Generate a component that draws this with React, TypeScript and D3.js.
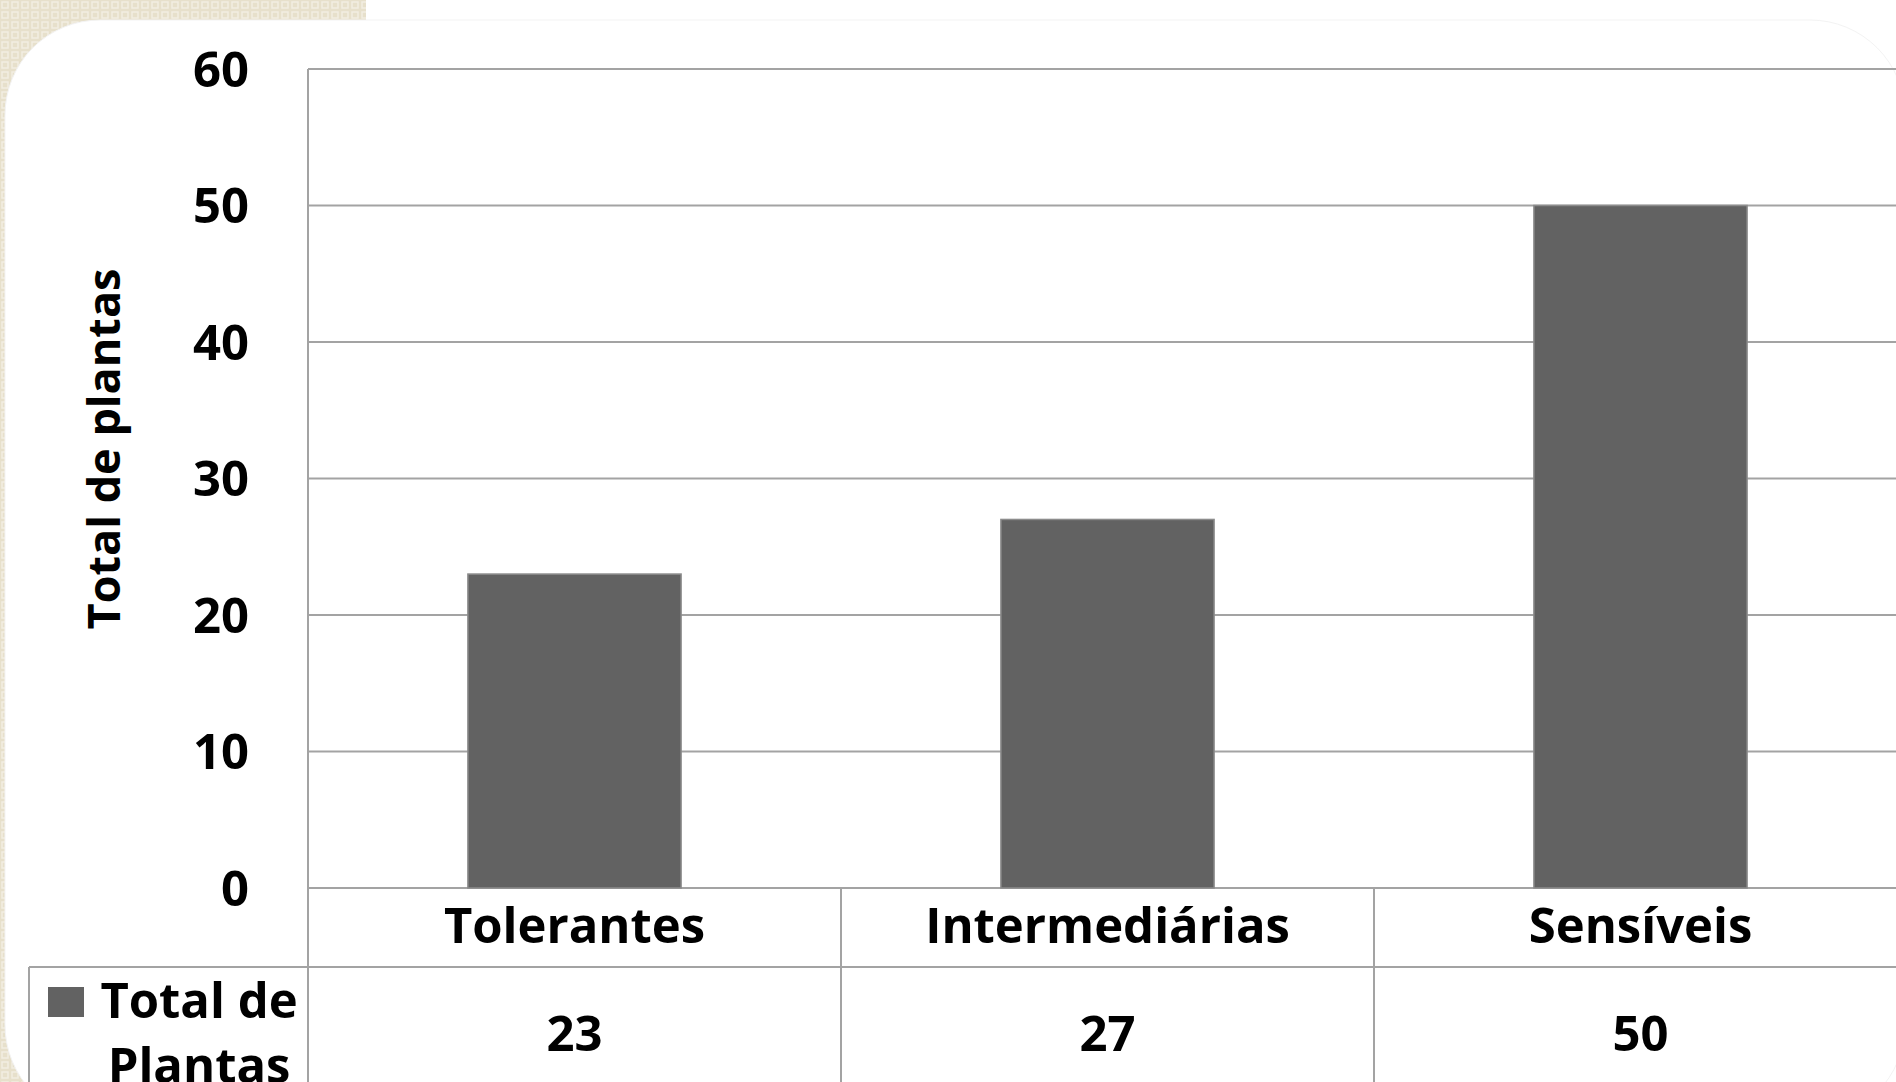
import * as d3 from 'd3';

// chart data
const categories = ['Tolerantes', 'Intermediárias', 'Sensíveis'];
const values = [23, 27, 50];
const yTicks = [0, 10, 20, 30, 40, 50, 60];
const seriesName = ['Total de', 'Plantas'];
const yTitle = 'Total de plantas';

const W = 1896;
const H = 1082;
const FONT = '"Open Sans", Lato, sans-serif';
const FS = 49;
const GRID = '#a3a3a3';
const BAR = '#626262';

export default function App() {
  // plot frame
  const left = 308;
  const top = 69;
  const bottom = 888;
  const band = 533;
  const rowLine = 967;

  const x = d3.scaleBand<string>().domain(categories).range([left, left + band * categories.length]).padding(0);
  const y = d3.scaleLinear().domain([0, 60]).range([bottom, top]);
  const barW = x.bandwidth() * 0.4;

  return (
    <svg
      width={W}
      height={H}
      style={{ position: 'absolute', left: 0, top: 0, display: 'block' }}
      fontFamily={FONT}
      fontWeight="bold"
    >
      <defs>
        <pattern id="tex" width={10} height={10} patternUnits="userSpaceOnUse">
          <rect width={10} height={10} fill="#e7e0cb" />
          <rect x={2} y={2} width={6} height={6} fill="none" stroke="#f2eee2" strokeWidth={1.5} />
        </pattern>
      </defs>

      {/* slide background and card */}
      <rect width={W} height={H} fill="#fff" />
      <rect x={0} y={0} width={366} height={H} fill="url(#tex)" />
      <rect x={5} y={20} width={1900} height={1100} rx={95} fill="#fff" stroke="#f3f3f3" strokeWidth={1} />

      {/* gridlines */}
      {yTicks.map((t) => (
        <line key={t} x1={left} x2={W + 20} y1={y(t)} y2={y(t)} stroke={GRID} strokeWidth={2} />
      ))}

      {/* bars */}
      {categories.map((c, i) => {
        const cx = (x(c) as number) + x.bandwidth() / 2;
        return (
          <rect
            key={c}
            x={cx - barW / 2}
            y={y(values[i])}
            width={barW}
            height={y(0) - y(values[i])}
            fill={BAR}
            stroke="#8c8c8c"
            strokeWidth={1.5}
          />
        );
      })}

      {/* y axis + table lines */}
      <line x1={left} x2={left} y1={top} y2={H} stroke={GRID} strokeWidth={2} />
      <line x1={29} x2={W + 20} y1={rowLine} y2={rowLine} stroke={GRID} strokeWidth={2} />
      <line x1={29} x2={29} y1={rowLine} y2={H} stroke={GRID} strokeWidth={2} />
      {categories.slice(1).map((c) => (
        <line key={c} x1={x(c)} x2={x(c)} y1={bottom} y2={H} stroke={GRID} strokeWidth={2} />
      ))}

      {/* tick labels */}
      {yTicks.map((t) => (
        <text key={t} x={249} y={y(t)} dy="0.36em" textAnchor="end" fontSize={FS} fill="#000">
          {t}
        </text>
      ))}

      {/* axis title */}
      <text
        transform={`translate(120, 449) rotate(-90)`}
        textAnchor="middle"
        fontSize={45}
        fill="#000"
      >
        {yTitle}
      </text>

      {/* category row */}
      {categories.map((c) => (
        <text
          key={c}
          x={(x(c) as number) + x.bandwidth() / 2}
          y={943}
          textAnchor="middle"
          fontSize={FS}
          fill="#000"
        >
          {c}
        </text>
      ))}

      {/* value row */}
      {categories.map((c, i) => (
        <text
          key={c}
          x={(x(c) as number) + x.bandwidth() / 2}
          y={1051}
          textAnchor="middle"
          fontSize={FS}
          fill="#000"
        >
          {values[i]}
        </text>
      ))}

      {/* legend cell */}
      <rect x={48} y={987} width={36} height={30} fill={BAR} />
      <text x={199} y={1018} textAnchor="middle" fontSize={FS} fill="#000">
        {seriesName[0]}
      </text>
      <text x={199} y={1083} textAnchor="middle" fontSize={FS} fill="#000">
        {seriesName[1]}
      </text>
    </svg>
  );
}
